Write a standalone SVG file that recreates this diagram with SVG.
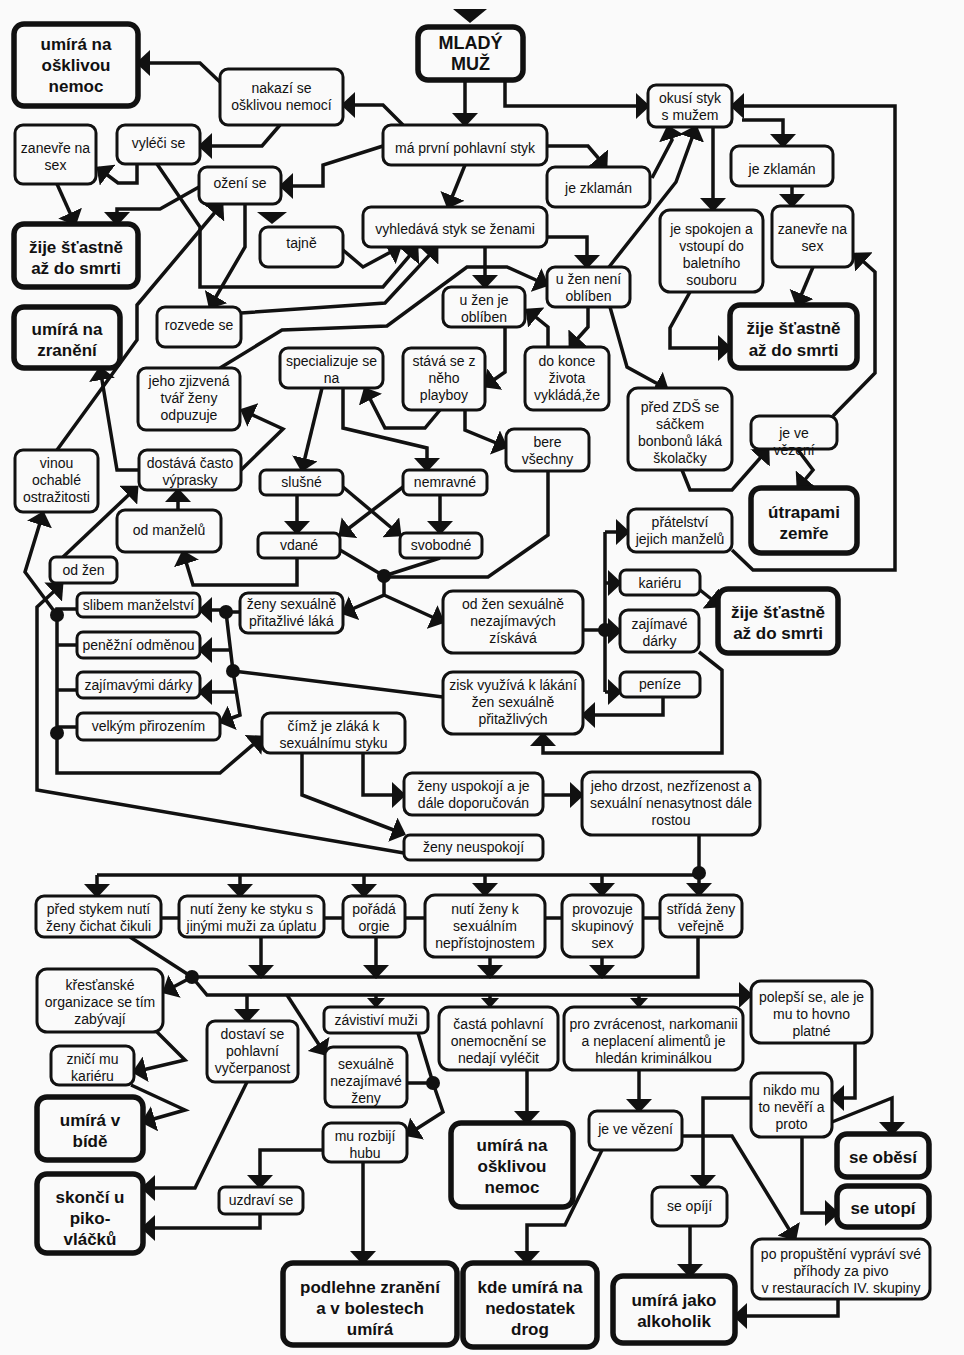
<svg xmlns="http://www.w3.org/2000/svg" width="964" height="1355" viewBox="0 0 964 1355">
<defs>
<style>
.n rect{fill:#fafafa;stroke:#111;stroke-width:3}
.t rect{fill:#fafafa;stroke:#111;stroke-width:5.5}
text{font-family:"Liberation Sans",Arial,sans-serif;fill:#111;text-anchor:middle}
.n text{font-size:14px}
.t text{font-size:17px;font-weight:bold}
#conn path{fill:none;stroke:#111;stroke-width:3.5;stroke-linejoin:miter;marker-end:url(#a)}
#conn path.p{marker-end:none}
#conn path.sm{marker-end:url(#s)}
#conn circle{fill:#111}
#conn polygon{fill:#111}
</style>
<marker id="a" viewBox="0 0 14 26" refX="12" refY="13" markerWidth="14" markerHeight="26" markerUnits="userSpaceOnUse" orient="auto"><path d="M0,0 L14,13 L0,26 Z" fill="#111"/></marker>
<marker id="s" viewBox="0 0 10 18" refX="9" refY="9" markerWidth="10" markerHeight="18" markerUnits="userSpaceOnUse" orient="auto"><path d="M0,0 L10,9 L0,18 Z" fill="#111"/></marker>
</defs>
<rect width="964" height="1355" fill="#fafafa"/>

<g id="conn">
<polygon points="453,9 487,9 470,23"/>
<polygon points="257,212 287,212 272,224"/>
<path d="M465,80 V125"/>
<path d="M505,80 V106 H648"/>
<path d="M403,125 L383,105 H343"/>
<path d="M220,82 L200,63 H138"/>
<path d="M280,125 L262,146 H200"/>
<path d="M137,164 V183 H118 L98,168"/>
<path d="M57,184 L75,224"/>
<path d="M199,187 L160,209 H117 V224"/>
<path d="M383,146 L323,165 V186 H281"/>
<path d="M547,146 H588 L606,167"/>
<path d="M465,165 L448,207"/>
<path d="M652,178 L672,140 L668,127"/>
<path d="M609,267 L676,182 L696,127"/>
<path d="M713,127 V210"/>
<path d="M742,120 H783 V146"/>
<path d="M732,550 L753,570 H895 V106 H732"/>
<path d="M792,186 V206"/>
<path d="M813,267 L797,305"/>
<path d="M690,292 L670,328 V348 H730"/>
<path d="M833,416 L875,373 V272 L855,254"/>
<path d="M798,450 L813,470 L798,488"/>
<path d="M682,470 L690,490 H732 L768,449"/>
<path d="M610,307 L627,367 L667,389"/>
<path d="M588,307 V327 L570,347"/>
<path d="M547,237 H587 V267"/>
<path d="M485,247 V287"/>
<path d="M505,327 V372 L485,386"/>
<path d="M548,347 V327 L527,310"/>
<path d="M220,368 L282,330 L387,326 L467,267 H507 L547,285"/>
<path d="M343,250 L363,267 L400,247"/>
<path d="M157,164 L200,227 V287 H383 L417,247"/>
<path d="M241,313 L385,303 L437,247"/>
<path d="M245,204 V247 L210,307"/>
<path d="M57,450 L137,340 V305 L222,204"/>
<path d="M139,470 H117 L100,368"/>
<path d="M241,470 L283,429 L242,410"/>
<path d="M178,510 V490"/>
<path d="M63,557 L137,487"/>
<path d="M297,558 V585 H193 L183,552"/>
<path d="M322,388 L302,470"/>
<path d="M343,388 V428 L427,448 V470"/>
<path d="M440,410 L425,428 H385 L365,389"/>
<path d="M465,410 V430 L506,447"/>
<path d="M297,495 V533"/>
<path d="M440,495 V533"/>
<path d="M343,487 L400,535"/>
<path d="M403,487 L340,535"/>
<path class="p" d="M340,550 L384,576"/>
<path class="p" d="M440,558 L384,576"/>
<path class="p" d="M548,471 V535 L488,577 H384"/>
<path d="M384,576 V595 L343,613"/>
<path d="M384,595 L443,622"/>
<path class="p" d="M240,612 H226"/>
<path d="M226,610 H200"/>
<path d="M226,612 L233,671 L240,715 L221,722"/>
<path d="M231,650 H200"/>
<path d="M236,692 H200"/>
<path class="p" d="M443,697 L233,671"/>
<path class="p" d="M77,609 H57 V733"/>
<path class="p" d="M77,645 H57"/>
<path class="p" d="M77,690 H57"/>
<path class="p" d="M77,727 H57"/>
<path d="M57,733 V773 H220 L262,737"/>
<path d="M57,615 L25,572 L43,513"/>
<path d="M404,853 L37,790 V607 L62,584"/>
<path class="p" d="M583,630 H605"/>
<path class="p" d="M605,532 V692"/>
<path d="M605,532 H628"/>
<path d="M605,583 H620"/>
<path d="M605,631 H620"/>
<path d="M605,692 H620"/>
<path d="M700,590 L720,606"/>
<path d="M699,652 L722,670 V753 H543 V734"/>
<path d="M663,697 V715 H583"/>
<path d="M363,753 V795 H404"/>
<path d="M302,753 V795 L404,834"/>
<path d="M543,795 H582"/>
<path class="p" d="M699,835 V873"/>
<path class="p" d="M97,875 H699"/>
<path d="M97,875 V896"/>
<path d="M240,875 V896"/>
<path d="M364,875 V896"/>
<path d="M485,875 V895"/>
<path d="M602,875 V895"/>
<path d="M699,873 V895"/>
<path class="p" d="M161,918 H179 M324,918 H343 M405,918 H425 M545,918 H562 M643,918 H660"/>
<path class="p" d="M130,937 L192,977 H698 V937"/>
<path d="M261,937 V977"/>
<path d="M376,937 V977"/>
<path d="M490,957 V977"/>
<path d="M602,957 V977"/>
<path d="M192,977 L164,992"/>
<path d="M192,977 L207,995 H751"/>
<path d="M247,995 V1021"/>
<path class="sm" d="M376,995 V1007"/>
<path class="sm" d="M490,995 V1007"/>
<path class="sm" d="M639,995 V1007"/>
<path d="M287,995 L325,1054"/>
<path d="M157,1032 L185,1060 L134,1072"/>
<path d="M131,1085 L185,1110 L143,1122"/>
<path d="M247,1082 L195,1188 H143"/>
<path class="p" d="M418,1033 L433,1083 M407,1083 H433"/>
<path d="M433,1083 L443,1112 L407,1135"/>
<path d="M323,1150 H260 V1187"/>
<path d="M260,1214 V1228 H143"/>
<path d="M363,1162 V1263"/>
<path d="M527,1070 V1123"/>
<path d="M639,1070 V1111"/>
<path d="M602,1150 L565,1225 H527 V1263"/>
<path d="M682,1136 H732 L795,1239"/>
<path d="M690,1226 V1276"/>
<path d="M838,1298 V1316 H735"/>
<path d="M751,1098 H703 V1187"/>
<path d="M832,1122 L892,1098 V1134"/>
<path d="M802,1137 V1213 H837"/>
<path d="M855,1043 V1098 H832"/>
<circle cx="384" cy="576" r="7"/>
<circle cx="226" cy="612" r="7"/>
<circle cx="233" cy="671" r="7"/>
<circle cx="57" cy="615" r="7"/>
<circle cx="57" cy="733" r="7"/>
<circle cx="605" cy="630" r="7"/>
<circle cx="699" cy="873" r="7"/>
<circle cx="192" cy="977" r="7"/>
<circle cx="433" cy="1083" r="7"/>
</g>

<g id="n-mlady" class="t"><rect x="418" y="27" width="105" height="53" rx="10"/><text x="470.5" y="49" style="font-size:18px">MLADÝ</text><text x="470.5" y="70" style="font-size:18px">MUŽ</text></g>
<g id="n-umira1" class="t"><rect x="14" y="24" width="124" height="82" rx="10"/><text x="76" y="50">umírá na</text><text x="76" y="71">ošklivou</text><text x="76" y="92">nemoc</text></g>
<g id="n-nakazi" class="n"><rect x="220" y="69" width="123" height="56" rx="8"/><text x="281.5" y="93">nakazí se</text><text x="281.5" y="110">ošklivou nemocí</text></g>
<g id="n-vyleci" class="n"><rect x="117" y="125" width="83" height="39" rx="8"/><text x="158.5" y="148">vyléči se</text></g>
<g id="n-zanevre1" class="n"><rect x="15" y="125" width="81" height="59" rx="8"/><text x="55.5" y="153">zanevře na</text><text x="55.5" y="170">sex</text></g>
<g id="n-ozeni" class="n"><rect x="199" y="167" width="82" height="37" rx="8"/><text x="240" y="188">ožení se</text></g>
<g id="n-prvni" class="n"><rect x="383" y="125" width="164" height="40" rx="8"/><text x="465" y="153">má první pohlavní styk</text></g>
<g id="n-zije1" class="t"><rect x="14" y="224" width="124" height="63" rx="10"/><text x="76" y="253">žije šťastně</text><text x="76" y="274">až do smrti</text></g>
<g id="n-tajne" class="n"><rect x="260" y="227" width="83" height="40" rx="8"/><text x="301.5" y="248">tajně</text></g>
<g id="n-zklaman1" class="n"><rect x="547" y="167" width="103" height="40" rx="8"/><text x="598.5" y="193">je zklamán</text></g>
<g id="n-vyhledava" class="n"><rect x="363" y="207" width="184" height="40" rx="8"/><text x="455" y="234">vyhledává styk se ženami</text></g>
<g id="n-okusi" class="n"><rect x="648" y="85" width="84" height="42" rx="8"/><text x="690" y="103">okusí styk</text><text x="690" y="120">s mužem</text></g>
<g id="n-zklaman2" class="n"><rect x="731" y="146" width="102" height="40" rx="8"/><text x="782" y="174">je zklamán</text></g>
<g id="n-spokojen" class="n"><rect x="660" y="210" width="103" height="82" rx="10"/><text x="711.5" y="234">je spokojen a</text><text x="711.5" y="251">vstoupí do</text><text x="711.5" y="268">baletního</text><text x="711.5" y="285">souboru</text></g>
<g id="n-zanevre2" class="n"><rect x="772" y="206" width="81" height="61" rx="8"/><text x="812.5" y="234">zanevře na</text><text x="812.5" y="251">sex</text></g>
<g id="n-zije2" class="t"><rect x="730" y="305" width="127" height="63" rx="10"/><text x="793.5" y="334">žije šťastně</text><text x="793.5" y="356">až do smrti</text></g>
<g id="n-neni" class="n"><rect x="547" y="267" width="83" height="40" rx="8"/><text x="588.5" y="284">u žen není</text><text x="588.5" y="301">oblíben</text></g>
<g id="n-jeobl" class="n"><rect x="443" y="287" width="82" height="40" rx="8"/><text x="484" y="305">u žen je</text><text x="484" y="322">oblíben</text></g>
<g id="n-rozvede" class="n"><rect x="157" y="307" width="84" height="40" rx="8"/><text x="199" y="330">rozvede se</text></g>
<g id="n-zraneni" class="t"><rect x="14" y="307" width="106" height="61" rx="10"/><text x="67" y="335">umírá na</text><text x="67" y="356">zranění</text></g>
<g id="n-special" class="n"><rect x="280" y="348" width="103" height="40" rx="8"/><text x="331.5" y="366">specializuje se</text><text x="331.5" y="383">na</text></g>
<g id="n-playboy" class="n"><rect x="403" y="348" width="82" height="62" rx="8"/><text x="444" y="366">stává se z</text><text x="444" y="383">něho</text><text x="444" y="400">playboy</text></g>
<g id="n-dokonce" class="n"><rect x="525" y="347" width="84" height="63" rx="8"/><text x="567" y="366">do konce</text><text x="567" y="383">života</text><text x="567" y="400">vykládá,že</text></g>
<g id="n-zds" class="n"><rect x="628" y="388" width="104" height="82" rx="10"/><text x="680" y="412">před ZDŠ se</text><text x="680" y="429">sáčkem</text><text x="680" y="446">bonbonů láká</text><text x="680" y="463">školačky</text></g>
<g id="n-vezeni1" class="n"><rect x="751" y="416" width="86" height="33" rx="8"/><text x="794" y="438">je ve</text><text x="794" y="455">vězení</text></g>
<g id="n-utrapami" class="t"><rect x="751" y="488" width="106" height="65" rx="10"/><text x="804" y="518">útrapami</text><text x="804" y="539">zemře</text></g>
<g id="n-zjizvena" class="n"><rect x="138" y="368" width="102" height="62" rx="8"/><text x="189" y="386">jeho zjizvená</text><text x="189" y="403">tvář ženy</text><text x="189" y="420">odpuzuje</text></g>
<g id="n-vinou" class="n"><rect x="15" y="450" width="83" height="62" rx="8"/><text x="56.5" y="468">vinou</text><text x="56.5" y="485">ochablé</text><text x="56.5" y="502">ostražitosti</text></g>
<g id="n-dostava" class="n"><rect x="139" y="450" width="102" height="40" rx="8"/><text x="190" y="468">dostává často</text><text x="190" y="485">výprasky</text></g>
<g id="n-slusne" class="n"><rect x="260" y="470" width="83" height="25" rx="6"/><text x="301.5" y="487">slušné</text></g>
<g id="n-nemravne" class="n"><rect x="403" y="470" width="84" height="25" rx="6"/><text x="445" y="487">nemravné</text></g>
<g id="n-bere" class="n"><rect x="506" y="429" width="83" height="42" rx="8"/><text x="547.5" y="447">bere</text><text x="547.5" y="464">všechny</text></g>
<g id="n-odmanzelu" class="n"><rect x="117" y="510" width="104" height="42" rx="8"/><text x="169" y="535">od manželů</text></g>
<g id="n-vdane" class="n"><rect x="258" y="533" width="82" height="25" rx="6"/><text x="299" y="550">vdané</text></g>
<g id="n-svobodne" class="n"><rect x="400" y="533" width="82" height="25" rx="6"/><text x="441" y="550">svobodné</text></g>
<g id="n-pratelstvi" class="n"><rect x="628" y="509" width="104" height="43" rx="8"/><text x="680" y="527">přátelství</text><text x="680" y="544">jejich manželů</text></g>
<g id="n-odzen" class="n"><rect x="50" y="557" width="67" height="26" rx="6"/><text x="83.5" y="575">od žen</text></g>
<g id="n-slibem" class="n"><rect x="77" y="593" width="123" height="24" rx="6"/><text x="138.5" y="610">slibem manželství</text></g>
<g id="n-zenypritaz" class="n"><rect x="240" y="593" width="103" height="40" rx="8"/><text x="291.5" y="609">ženy sexuálně</text><text x="291.5" y="626">přitažlivé láká</text></g>
<g id="n-odzennezaj" class="n"><rect x="443" y="591" width="140" height="62" rx="10"/><text x="513" y="609">od žen sexuálně</text><text x="513" y="626">nezajímavých</text><text x="513" y="643">získává</text></g>
<g id="n-karieru" class="n"><rect x="620" y="570" width="80" height="25" rx="6"/><text x="660" y="588">kariéru</text></g>
<g id="n-zajimave" class="n"><rect x="620" y="610" width="79" height="42" rx="8"/><text x="659.5" y="629">zajímavé</text><text x="659.5" y="646">dárky</text></g>
<g id="n-zije3" class="t"><rect x="718" y="589" width="120" height="64" rx="10"/><text x="778" y="618">žije šťastně</text><text x="778" y="639">až do smrti</text></g>
<g id="n-penize" class="n"><rect x="620" y="672" width="80" height="25" rx="6"/><text x="660" y="689">peníze</text></g>
<g id="n-zisk" class="n"><rect x="443" y="672" width="140" height="62" rx="10"/><text x="513" y="690">zisk využívá k lákání</text><text x="513" y="707">žen sexuálně</text><text x="513" y="724">přitažlivých</text></g>
<g id="n-penezni" class="n"><rect x="77" y="632" width="123" height="26" rx="6"/><text x="138.5" y="650">peněžní odměnou</text></g>
<g id="n-zajimavymi" class="n"><rect x="77" y="672" width="123" height="26" rx="6"/><text x="138.5" y="690">zajímavými dárky</text></g>
<g id="n-velkym" class="n"><rect x="77" y="713" width="143" height="27" rx="6"/><text x="148.5" y="731">velkým přirozením</text></g>
<g id="n-cimz" class="n"><rect x="262" y="713" width="143" height="40" rx="8"/><text x="333.5" y="731">čímž je zláká k</text><text x="333.5" y="748">sexuálnímu styku</text></g>
<g id="n-uspokoji" class="n"><rect x="404" y="773" width="139" height="42" rx="8"/><text x="473.5" y="791">ženy uspokojí a je</text><text x="473.5" y="808">dále doporučován</text></g>
<g id="n-drzost" class="n"><rect x="582" y="772" width="178" height="63" rx="10"/><text x="671" y="791">jeho drzost, nezřízenost a</text><text x="671" y="808">sexuální nenasytnost dále</text><text x="671" y="825">rostou</text></g>
<g id="n-neuspokoji" class="n"><rect x="404" y="835" width="139" height="25" rx="6"/><text x="473.5" y="852">ženy neuspokojí</text></g>
<g id="n-cichat" class="n"><rect x="36" y="896" width="125" height="41" rx="8"/><text x="98.5" y="914">před stykem nutí</text><text x="98.5" y="931">ženy čichat čikuli</text></g>
<g id="n-jinymi" class="n"><rect x="179" y="896" width="145" height="41" rx="8"/><text x="251.5" y="914">nutí ženy ke styku s</text><text x="251.5" y="931">jinými muži za úplatu</text></g>
<g id="n-orgie" class="n"><rect x="343" y="896" width="62" height="41" rx="8"/><text x="374" y="914">pořádá</text><text x="374" y="931">orgie</text></g>
<g id="n-neprist" class="n"><rect x="425" y="895" width="120" height="62" rx="10"/><text x="485" y="914">nutí ženy k</text><text x="485" y="931">sexuálním</text><text x="485" y="948">nepřístojnostem</text></g>
<g id="n-skupin" class="n"><rect x="562" y="895" width="81" height="62" rx="10"/><text x="602.5" y="914">provozuje</text><text x="602.5" y="931">skupinový</text><text x="602.5" y="948">sex</text></g>
<g id="n-strida" class="n"><rect x="660" y="895" width="82" height="42" rx="8"/><text x="701" y="914">střídá ženy</text><text x="701" y="931">veřejně</text></g>
<g id="n-krest" class="n"><rect x="37" y="969" width="126" height="63" rx="10"/><text x="100" y="990">křesťanské</text><text x="100" y="1007">organizace se tím</text><text x="100" y="1024">zabývají</text></g>
<g id="n-znici" class="n"><rect x="51" y="1046" width="83" height="39" rx="8"/><text x="92.5" y="1064">zničí mu</text><text x="92.5" y="1081">kariéru</text></g>
<g id="n-bide" class="t"><rect x="37" y="1097" width="106" height="63" rx="10"/><text x="90" y="1126">umírá v</text><text x="90" y="1147">bídě</text></g>
<g id="n-vycerp" class="n"><rect x="207" y="1021" width="91" height="61" rx="8"/><text x="252.5" y="1039">dostaví se</text><text x="252.5" y="1056">pohlavní</text><text x="252.5" y="1073">vyčerpanost</text></g>
<g id="n-zavist" class="n"><rect x="324" y="1007" width="104" height="26" rx="6"/><text x="376" y="1025">závistiví muži</text></g>
<g id="n-nezajzeny" class="n"><rect x="325" y="1047" width="82" height="60" rx="8"/><text x="366" y="1069">sexuálně</text><text x="366" y="1086">nezajímavé</text><text x="366" y="1103">ženy</text></g>
<g id="n-hubu" class="n"><rect x="323" y="1123" width="84" height="39" rx="8"/><text x="365" y="1141">mu rozbijí</text><text x="365" y="1158">hubu</text></g>
<g id="n-uzdravi" class="n"><rect x="219" y="1187" width="84" height="27" rx="6"/><text x="261" y="1205">uzdraví se</text></g>
<g id="n-piko" class="t"><rect x="37" y="1174" width="106" height="79" rx="10"/><text x="90" y="1203">skončí u</text><text x="90" y="1224">piko-</text><text x="90" y="1245">vláčků</text></g>
<g id="n-podlehne" class="t"><rect x="283" y="1263" width="174" height="82" rx="10"/><text x="370" y="1293">podlehne zranění</text><text x="370" y="1314">a v bolestech</text><text x="370" y="1335">umírá</text></g>
<g id="n-casta" class="n"><rect x="439" y="1007" width="119" height="63" rx="10"/><text x="498.5" y="1029">častá pohlavní</text><text x="498.5" y="1046">onemocnění se</text><text x="498.5" y="1063">nedají vyléčit</text></g>
<g id="n-zvrac" class="n"><rect x="564" y="1007" width="179" height="63" rx="10"/><text x="653.5" y="1029">pro zvrácenost, narkomanii</text><text x="653.5" y="1046">a neplacení alimentů je</text><text x="653.5" y="1063">hledán kriminálkou</text></g>
<g id="n-polepsi" class="n"><rect x="751" y="981" width="121" height="62" rx="10"/><text x="811.5" y="1002">polepší se, ale je</text><text x="811.5" y="1019">mu to hovno</text><text x="811.5" y="1036">platné</text></g>
<g id="n-nikdo" class="n"><rect x="751" y="1073" width="81" height="64" rx="10"/><text x="791.5" y="1095">nikdo mu</text><text x="791.5" y="1112">to nevěří a</text><text x="791.5" y="1129">proto</text></g>
<g id="n-umira2" class="t"><rect x="451" y="1123" width="122" height="84" rx="10"/><text x="512" y="1151">umírá na</text><text x="512" y="1172">ošklivou</text><text x="512" y="1193">nemoc</text></g>
<g id="n-vezeni2" class="n"><rect x="589" y="1111" width="93" height="39" rx="8"/><text x="635.5" y="1134">je ve vězení</text></g>
<g id="n-obesi" class="t"><rect x="837" y="1134" width="92" height="43" rx="10"/><text x="883" y="1163">se oběsí</text></g>
<g id="n-utopi" class="t"><rect x="837" y="1186" width="92" height="41" rx="10"/><text x="883" y="1214">se utopí</text></g>
<g id="n-opiji" class="n"><rect x="652" y="1187" width="75" height="39" rx="8"/><text x="689.5" y="1211">se opíjí</text></g>
<g id="n-propust" class="n"><rect x="752" y="1239" width="178" height="60" rx="10"/><text x="841" y="1259">po propuštění vypráví své</text><text x="841" y="1276">příhody za pivo</text><text x="841" y="1293">v restauracích IV. skupiny</text></g>
<g id="n-drogy" class="t"><rect x="463" y="1263" width="134" height="84" rx="10"/><text x="530" y="1293">kde umírá na</text><text x="530" y="1314">nedostatek</text><text x="530" y="1335">drog</text></g>
<g id="n-alkoholik" class="t"><rect x="613" y="1276" width="122" height="67" rx="10"/><text x="674" y="1306">umírá jako</text><text x="674" y="1327">alkoholik</text></g>
</svg>
